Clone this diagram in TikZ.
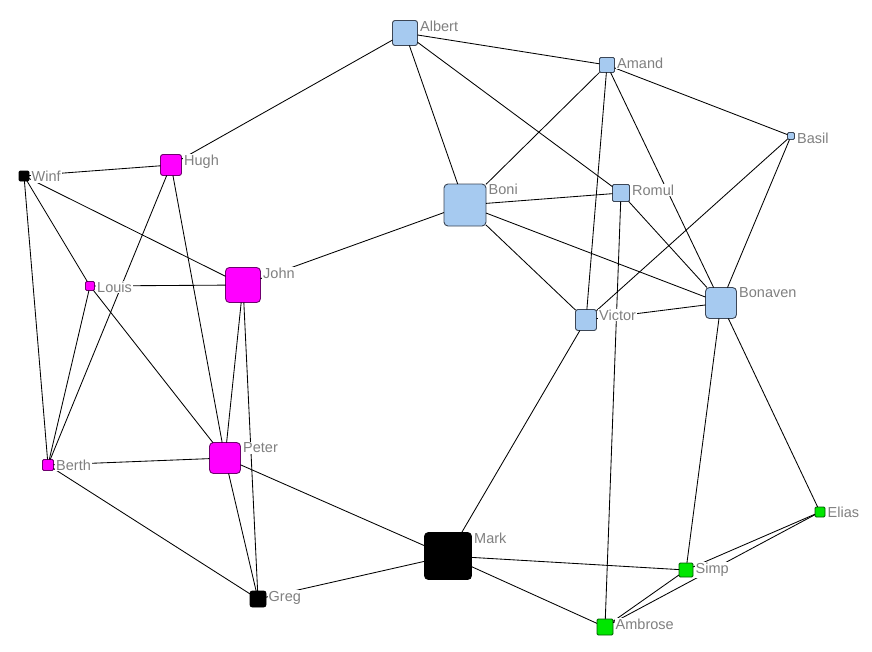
\documentclass[tikz,border=0pt]{standalone}
\usepackage{fontspec}
\setmainfont{Liberation Sans}
\definecolor{nblue}{RGB}{166,202,240}
\definecolor{nblueb}{RGB}{60,70,85}
\definecolor{nmag}{RGB}{255,0,255}
\definecolor{nmagb}{RGB}{110,0,110}
\definecolor{ngreen}{RGB}{0,230,0}
\definecolor{ngreenb}{RGB}{0,90,0}
\definecolor{lblgray}{RGB}{128,128,128}
\tikzset{
  vtx/.style={rectangle, inner sep=0pt, outer sep=0pt, minimum size=#1pt, line width=0.9pt},
  bluev/.style={vtx=#1, fill=nblue, draw=nblueb},
  magv/.style={vtx=#1, fill=nmag, draw=nmagb},
  greenv/.style={vtx=#1, fill=ngreen, draw=ngreenb},
  blackv/.style={vtx=#1, fill=black, draw=black},
  big/.style={rounded corners=4pt},
  mid/.style={rounded corners=2.5pt},
  sml/.style={rounded corners=1.2pt},
  lbl/.style={anchor=north west, inner sep=1pt, fill=white, text=lblgray, font=\fontsize{14.5}{16}\selectfont},
  edge/.style={draw=black, line width=0.85pt}
}
\begin{document}
\begin{tikzpicture}[x=1pt,y=-1pt]
\useasboundingbox[fill=white] (0,0) rectangle (872,651);
% nodes
\node[bluev=25, mid] (albert) at (405,33) {};
\node[bluev=15, sml] (amand) at (607,65) {};
\node[bluev=7, sml] (basil) at (791,136) {};
\node[bluev=42, big] (boni) at (465,205) {};
\node[bluev=17, sml] (romul) at (621,193) {};
\node[bluev=31, big] (bonaven) at (721,303) {};
\node[bluev=21, mid] (victor) at (586,320) {};
\node[magv=21, mid] (hugh) at (171,165) {};
\node[blackv=10, sml] (winf) at (24,176) {};
\node[magv=35, big] (john) at (243,285) {};
\node[magv=9, sml] (louis) at (90,286) {};
\node[magv=11, sml] (berth) at (48,465) {};
\node[magv=31, big] (peter) at (225,458) {};
\node[blackv=16, mid] (greg) at (258,599) {};
\node[blackv=47, big] (mark) at (448,556) {};
\node[greenv=14, sml] (simp) at (686,570) {};
\node[greenv=10, sml] (elias) at (820,512) {};
\node[greenv=16, sml] (ambrose) at (605,627) {};
% edges
\draw[edge] (albert) -- (hugh);
\draw[edge] (albert) -- (amand);
\draw[edge] (albert) -- (boni);
\draw[edge] (albert) -- (romul);
\draw[edge] (amand) -- (boni);
\draw[edge] (amand) -- (basil);
\draw[edge] (amand) -- (victor);
\draw[edge] (amand) -- (bonaven);
\draw[edge] (basil) -- (victor);
\draw[edge] (basil) -- (bonaven);
\draw[edge] (boni) -- (romul);
\draw[edge] (boni) -- (victor);
\draw[edge] (boni) -- (bonaven);
\draw[edge] (boni) -- (john);
\draw[edge] (romul) -- (bonaven);
\draw[edge] (romul) -- (ambrose);
\draw[edge] (victor) -- (bonaven);
\draw[edge] (victor) -- (mark);
\draw[edge] (bonaven) -- (simp);
\draw[edge] (bonaven) -- (elias);
\draw[edge] (elias) -- (simp);
\draw[edge] (elias) -- (ambrose);
\draw[edge] (simp) -- (ambrose);
\draw[edge] (simp) -- (mark);
\draw[edge] (mark) -- (ambrose);
\draw[edge] (mark) -- (greg);
\draw[edge] (mark) -- (peter);
\draw[edge] (hugh) -- (winf);
\draw[edge] (hugh) -- (peter);
\draw[edge] (hugh) -- (berth);
\draw[edge] (winf) -- (john);
\draw[edge] (winf) -- (louis);
\draw[edge] (winf) -- (berth);
\draw[edge] (louis) -- (john);
\draw[edge] (louis) -- (berth);
\draw[edge] (louis) -- (peter);
\draw[edge] (john) -- (peter);
\draw[edge] (john) -- (greg);
\draw[edge] (peter) -- (berth);
\draw[edge] (peter) -- (greg);
\draw[edge] (berth) -- (greg);
% labels
\node[lbl] (lalbert) at ([xshift=1.5pt,yshift=1pt]albert.north east) {Albert};
\node[lbl] (lamand) at ([xshift=1.5pt,yshift=1pt]amand.north east) {Amand};
\node[lbl] (lbasil) at ([xshift=1.5pt,yshift=1pt]basil.north east) {Basil};
\node[lbl] (lboni) at ([xshift=1.5pt,yshift=1pt]boni.north east) {Boni};
\node[lbl] (lromul) at ([xshift=1.5pt,yshift=1pt]romul.north east) {Romul};
\node[lbl] (lbonaven) at ([xshift=1.5pt,yshift=1pt]bonaven.north east) {Bonaven};
\node[lbl] (lvictor) at ([xshift=1.5pt,yshift=1pt]victor.north east) {Victor};
\node[lbl] (lhugh) at ([xshift=1.5pt,yshift=1pt]hugh.north east) {Hugh};
\node[lbl] (lwinf) at ([xshift=1.5pt,yshift=1pt]winf.north east) {Winf};
\node[lbl] (ljohn) at ([xshift=1.5pt,yshift=1pt]john.north east) {John};
\node[lbl] (llouis) at ([xshift=1.5pt,yshift=1pt]louis.north east) {Louis};
\node[lbl] (lberth) at ([xshift=1.5pt,yshift=1pt]berth.north east) {Berth};
\node[lbl] (lpeter) at ([xshift=1.5pt,yshift=1pt]peter.north east) {Peter};
\node[lbl] (lgreg) at ([xshift=1.5pt,yshift=1pt]greg.north east) {Greg};
\node[lbl] (lmark) at ([xshift=1.5pt,yshift=1pt]mark.north east) {Mark};
\node[lbl] (lsimp) at ([xshift=1.5pt,yshift=1pt]simp.north east) {Simp};
\node[lbl] (lelias) at ([xshift=1.5pt,yshift=1pt]elias.north east) {Elias};
\node[lbl] (lambrose) at ([xshift=1.5pt,yshift=1pt]ambrose.north east) {Ambrose};
\end{tikzpicture}
\end{document}
